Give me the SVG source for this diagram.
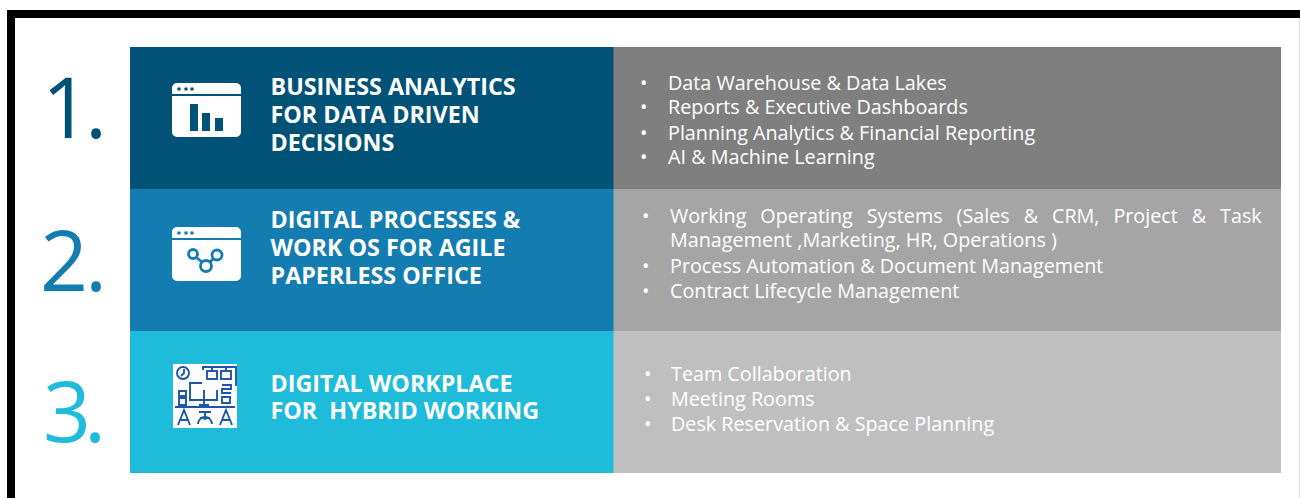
<svg xmlns="http://www.w3.org/2000/svg" width="1300" height="498" viewBox="0 0 1300 498">
<style>
text{font-family:"Open Sans","Noto Sans","Liberation Sans",sans-serif}
.num{font-size:84px;font-weight:400}
.h{font-size:23.300px;font-weight:700;fill:#fff}
.b{font-size:19.750px;fill:#fff}
.ic{fill:#fff}
.line{fill:none;stroke:#1b56a8;stroke-width:1.900}
</style>
<rect width="1300" height="498" fill="#fff"/>
<rect x="7" y="10" width="1293" height="8" fill="#000"/>
<rect x="7" y="10" width="8" height="488" fill="#000"/>
<rect x="1299" y="18" width="1" height="480" fill="#e3e3e3"/>

<g id="row1">
<text class="num" x="42" y="138" fill="#005376">1<tspan dx="-5">.</tspan></text>
<rect x="130" y="47" width="484" height="142" fill="#005376"/>
<rect x="613.500" y="47" width="667.500" height="142" fill="#7f7f7f"/>
<g id="icon1">
<path class="ic" d="M177 83H236a5 5 0 0 1 5 5V94H172V88a5 5 0 0 1 5-5ZM172 96H241V132a5 5 0 0 1-5 5H177a5 5 0 0 1-5-5Z"/>
<g fill="#005376"><circle cx="179" cy="89" r="1.800"/><circle cx="186" cy="89" r="1.800"/><circle cx="192" cy="89" r="1.800"/>
<rect x="190" y="104" width="8" height="27"/><rect x="202" y="113" width="8" height="18"/><rect x="215" y="118" width="8" height="13"/></g>
</g>
<text class="h"><tspan x="270.500" y="95">BUSINESS ANALYTICS</tspan><tspan x="270.500" y="123">FOR DATA DRIVEN</tspan><tspan x="270.500" y="151">DECISIONS</tspan></text>
<text class="b"><tspan x="640" y="90">•</tspan><tspan x="668" y="90">Data Warehouse &amp; Data Lakes</tspan><tspan x="640" y="114">•</tspan><tspan x="668" y="114">Reports &amp; Executive Dashboards</tspan><tspan x="640" y="140">•</tspan><tspan x="668" y="140">Planning Analytics &amp; Financial Reporting</tspan><tspan x="640" y="164">•</tspan><tspan x="668" y="164">AI &amp; Machine Learning</tspan></text>
</g>

<g id="row2">
<text class="num" x="40" y="291" fill="#137cb0">2<tspan dx="-3">.</tspan></text>
<rect x="130" y="189" width="484" height="142" fill="#137cb0"/>
<rect x="613.500" y="189" width="667.500" height="142" fill="#a5a5a5"/>
<g id="icon2">
<path class="ic" d="M177 227H236a5 5 0 0 1 5 5V238H172V232a5 5 0 0 1 5-5ZM172 240H241V276a5 5 0 0 1-5 5H177a5 5 0 0 1-5-5Z"/>
<g fill="#137cb0"><circle cx="179" cy="233" r="1.800"/><circle cx="186" cy="233" r="1.800"/><circle cx="192" cy="233" r="1.800"/></g>
<g fill="none" stroke="#137cb0" stroke-width="2.800"><circle cx="193" cy="254" r="4.500"/><circle cx="206" cy="266" r="5.500"/><circle cx="217" cy="255" r="5"/><path d="M197 258L202 262M210 262L213 259"/></g>
</g>
<text class="h"><tspan x="270.500" y="228">DIGITAL PROCESSES &amp;</tspan><tspan x="270.500" y="256">WORK OS FOR AGILE</tspan><tspan x="270.500" y="284">PAPERLESS OFFICE</tspan></text>
<text class="b"><tspan x="642" y="223">•</tspan><tspan x="670" y="223" word-spacing="8.800">Working Operating Systems (Sales &amp; CRM, Project &amp; Task</tspan><tspan x="670" y="247">Management ,Marketing, HR, Operations )</tspan><tspan x="642" y="273">•</tspan><tspan x="670" y="273">Process Automation &amp; Document Management</tspan><tspan x="642" y="298">•</tspan><tspan x="670" y="298">Contract Lifecycle Management</tspan></text>
</g>

<g id="row3">
<text class="num" x="43" y="442" fill="#1fbbdb">3<tspan dx="-7">.</tspan></text>
<rect x="130" y="331" width="484" height="142" fill="#1fbbdb"/>
<rect x="613.500" y="331" width="667.500" height="142" fill="#bfbfbf"/>
<g id="icon3">
<rect x="173" y="364" width="64" height="64" fill="#fff"/>
<g class="line">
<circle cx="183" cy="373" r="6"/><path d="M184 369V373L181 376"/>
<path d="M203 370V367H236V386"/>
<rect x="207" y="371" width="10" height="8"/><rect x="221" y="371" width="10" height="8"/><path d="M212 371V368M226 371V368"/>
<path d="M202 383H190V400H217V390M204 390V405M199 405H209"/>
<path d="M222 385H231V389H222V393H231M222 397H230V403H222Z"/>
<path d="M179 391H186V396H179ZM179 398H186V405H179Z"/>
<path d="M175 407H235"/>
<path d="M178 425L184 410L190 425M180 420H188M199 412H211M205 412V420M198 424A7 7 0 0 1 212 424M200 418H210M220 425L226 410L232 425M222 420H230"/>
</g>
</g>
<text class="h"><tspan x="270.500" y="392">DIGITAL WORKPLACE</tspan><tspan x="270.500" y="419" xml:space="preserve">FOR  HYBRID WORKING</tspan></text>
<text class="b"><tspan x="644" y="381">•</tspan><tspan x="671" y="381">Team Collaboration</tspan><tspan x="644" y="406">•</tspan><tspan x="671" y="406">Meeting Rooms</tspan><tspan x="644" y="431">•</tspan><tspan x="671" y="431">Desk Reservation &amp; Space Planning</tspan></text>
</g>
</svg>
